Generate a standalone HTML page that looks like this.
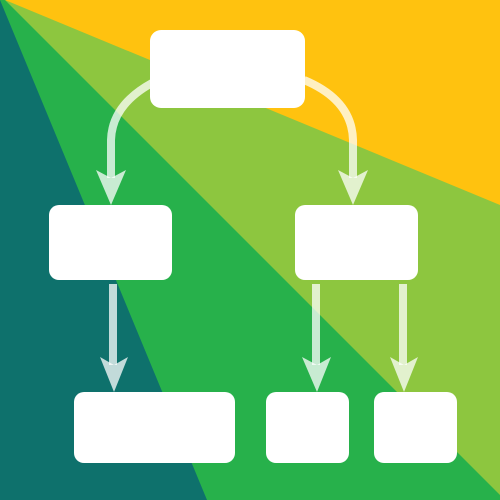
<!DOCTYPE html>
<html><head><style>html,body{margin:0;padding:0;width:500px;height:500px;overflow:hidden}</style></head>
<body>
<svg width="500" height="500" viewBox="0 0 500 500" xmlns="http://www.w3.org/2000/svg">
<rect width="500" height="500" fill="#FFC20F"/>
<polygon points="5,0 500,205 500,500 0,500 0,0" fill="#8DC63F"/>
<polygon points="5,0 500,495 500,500 0,500 0,0" fill="#27B14B"/>
<polygon points="0,0 207,500 0,500" fill="#0E716C"/>
<g fill="none" stroke="#fff" stroke-opacity="0.75" stroke-width="8">
<path d="M152,83 Q112,105 111,140 L111,178"/>
<path d="M304,80 Q352,100 353,140 L353,178"/>
<path d="M113,284 L113,365"/>
<path d="M316,284 L316,365"/>
<path d="M403,284 L403,365"/>
</g>
<g fill="#fff" fill-opacity="0.75">
<polygon points="96,170 111,178 126,170 111,205"/>
<polygon points="338,170 353,178 368,170 353,205"/>
<polygon points="100,357 114,365 128,357 114,392"/>
<polygon points="302,357 317,365 331,357 317,392"/>
<polygon points="390,357 404,365 418,357 404,392"/>
</g>
<g fill="#fff">
<rect x="150" y="30" width="155" height="78" rx="11"/>
<rect x="49" y="205" width="123" height="75" rx="10"/>
<rect x="295" y="205" width="123" height="75" rx="10"/>
<rect x="74" y="392" width="161" height="71" rx="10"/>
<rect x="266" y="392" width="83" height="71" rx="10"/>
<rect x="374" y="392" width="83" height="71" rx="10"/>
</g>
</svg>
</body></html>
